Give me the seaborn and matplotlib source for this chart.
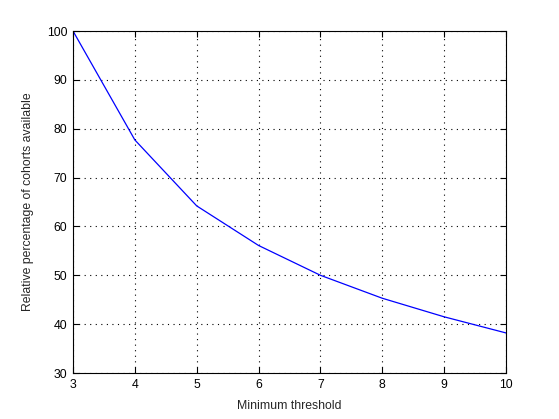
import matplotlib
matplotlib.use("Agg")
import matplotlib.pyplot as plt
import seaborn as sns
import pandas as pd

thresholds = [3, 4, 5, 6, 7, 8, 9, 10]
relative_pct = [100, 77.7, 64.2, 56.1, 50.0, 45.3, 41.5, 38.2]
x_ticks = [3, 4, 5, 6, 7, 8, 9, 10]
y_ticks = [30, 40, 50, 60, 70, 80, 90, 100]

sns.set_style("white")
plt.rcParams['font.family'] = ['Liberation Sans', 'DejaVu Sans']

df = pd.DataFrame({"threshold": thresholds, "pct": relative_pct})

fig = plt.figure(figsize=(5.59, 4.19), dpi=100)
ax = fig.add_axes([73/559, 46/419, 433/559, 342/419])
sns.lineplot(data=df, x="threshold", y="pct", color="#0000ff", linewidth=0.9, ax=ax)

ax.set_xlim(3, 10)
ax.set_ylim(30, 100)
ax.set_xticks(x_ticks)
ax.set_yticks(y_ticks)
ax.grid(True, color="black", linestyle=(0, (1, 4)), linewidth=0.8)
for s in ax.spines.values():
    s.set_color("black")
    s.set_linewidth(0.8)
ax.tick_params(direction="in", length=4, width=0.8, labelsize=8.8, colors="black",
               top=True, right=True, bottom=True, left=True, pad=4)
ax.set_xlabel("Minimum threshold", fontsize=8.8, labelpad=7)
ax.set_ylabel("Relative percentage of cohorts available", fontsize=8.8, labelpad=9)
fig.savefig("out.png", dpi=100, facecolor="white")
